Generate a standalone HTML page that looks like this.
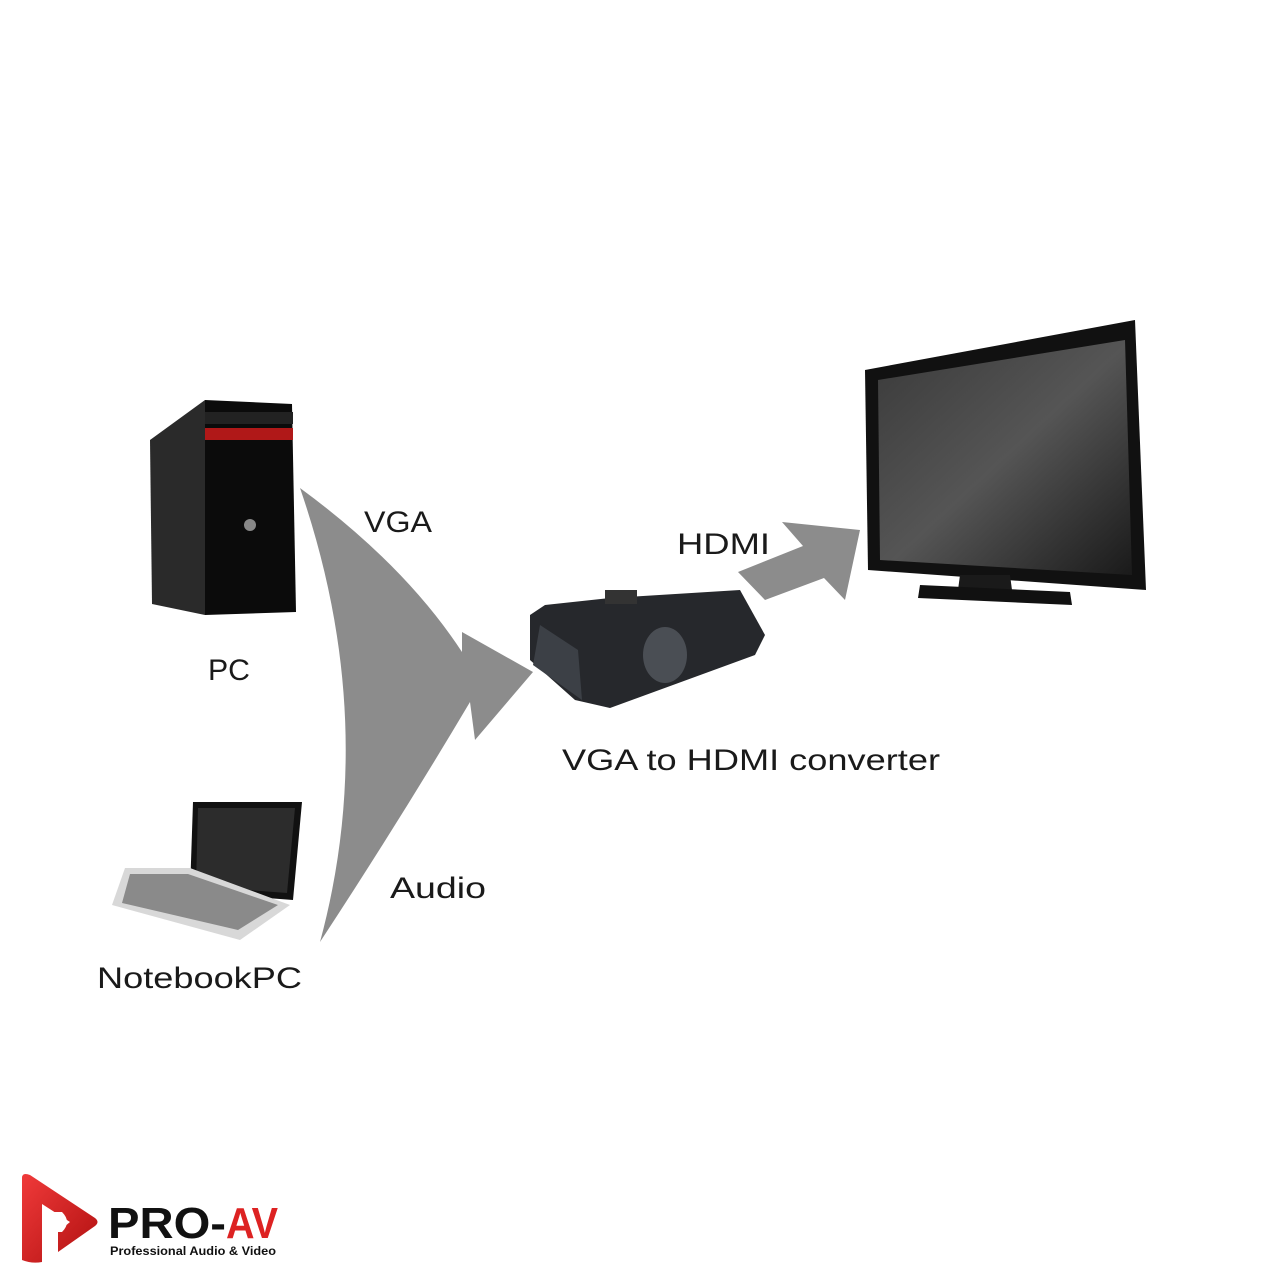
<!DOCTYPE html>
<html><head><style>
html,body{margin:0;padding:0;background:#fff;}
svg{display:block;}
text{font-family:"Liberation Sans",sans-serif;fill:#1a1a1a;}
</style></head><body>
<svg width="1280" height="1280" viewBox="0 0 1280 1280" xmlns="http://www.w3.org/2000/svg">
<defs>
<linearGradient id="tv" x1="0" y1="0" x2="1" y2="1">
<stop offset="0" stop-color="#3a3a3a"/><stop offset="0.5" stop-color="#555"/><stop offset="1" stop-color="#1a1a1a"/>
</linearGradient>
<linearGradient id="logo" x1="0" y1="0" x2="1" y2="1">
<stop offset="0" stop-color="#f03a3a"/><stop offset="1" stop-color="#b01010"/>
</linearGradient>
</defs>
<path d="M300,488 Q405,565 462,652 L462,632 L533,672 L475,740 L470,702 Q400,820 320,942 Q380,720 300,488 Z" fill="#8c8c8c"/>
<path d="M738,572 L803,546 L782,522 L860,530 L845,600 L824,578 L765,600 Z" fill="#8c8c8c"/>
<path d="M150,440 L205,400 L205,615 L152,604 Z" fill="#2a2a2a"/>
<path d="M205,400 L292,404 L296,612 L205,615 Z" fill="#0b0b0b"/>
<rect x="205" y="428" width="88" height="12" fill="#b01818"/>
<rect x="205" y="412" width="88" height="12" fill="#222"/>
<circle cx="250" cy="525" r="6" fill="#888"/>
<path d="M193,802 L302,802 L293,900 L190,892 Z" fill="#111"/>
<path d="M198,808 L295,808 L287,893 L196,886 Z" fill="#2c2c2c"/>
<path d="M125,868 L190,868 L290,905 L240,940 L112,905 Z" fill="#d8d8d8"/>
<path d="M130,874 L188,874 L278,905 L238,930 L122,903 Z" fill="#8a8a8a"/>
<path d="M545,605 L610,598 L740,590 L765,635 L755,655 L610,708 L575,700 L530,660 L530,615 Z" fill="#26282c"/>
<path d="M540,625 L578,650 L582,700 L533,665 Z" fill="#3c4046"/>
<ellipse cx="665" cy="655" rx="22" ry="28" fill="#4a4e54"/>
<rect x="605" y="590" width="32" height="14" fill="#333"/>
<path d="M865,370 L1135,320 L1146,590 L868,570 Z" fill="#111"/>
<path d="M878,380 L1125,340 L1132,575 L880,560 Z" fill="url(#tv)"/>
<path d="M960,575 L1010,575 L1012,590 L958,590 Z" fill="#1a1a1a"/>
<path d="M920,585 L1070,592 L1072,605 L918,598 Z" fill="#111"/>
<text x="364" y="532" font-size="30" textLength="68" lengthAdjust="spacingAndGlyphs">VGA</text>
<text x="208" y="680" font-size="30" textLength="42" lengthAdjust="spacingAndGlyphs">PC</text>
<text x="677" y="554" font-size="30" textLength="93" lengthAdjust="spacingAndGlyphs">HDMI</text>
<text x="390" y="898" font-size="30" textLength="96" lengthAdjust="spacingAndGlyphs">Audio</text>
<text x="97" y="988" font-size="30" textLength="205" lengthAdjust="spacingAndGlyphs">NotebookPC</text>
<text x="562" y="770" font-size="30" textLength="378" lengthAdjust="spacingAndGlyphs">VGA to HDMI converter</text>
<path d="M22,1178 Q22,1172 30,1175 L95,1218 Q100,1222 95,1226 L58,1252 L58,1232 L70,1222 L42,1204 L42,1262 Q32,1264 22,1260 Z" fill="url(#logo)"/>
<path d="M42,1212 L62,1212 Q72,1222 62,1232 L42,1232 Z" fill="#fff"/>
<text x="108" y="1238" font-size="44" font-weight="bold" style="fill:#111" textLength="118" lengthAdjust="spacingAndGlyphs">PRO-</text>
<text x="226" y="1238" font-size="44" font-weight="bold" style="fill:#d22" textLength="52" lengthAdjust="spacingAndGlyphs">AV</text>
<text x="110" y="1255" font-size="12" font-weight="bold" style="fill:#111" textLength="166" lengthAdjust="spacingAndGlyphs">Professional Audio &amp; Video</text>
</svg>
</body></html>
